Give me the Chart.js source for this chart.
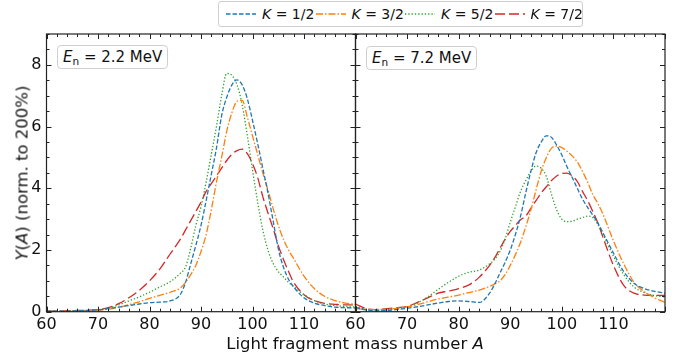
<!DOCTYPE html>
<html>
<head>
<meta charset="utf-8">
<script src="https://cdn.jsdelivr.net/npm/chart.js@4.4.1/dist/chart.umd.min.js"></script>
<style>
  body { margin: 0; background: #fff; }
  #wrap { position: relative; width: 683px; height: 362px; font-family: "DejaVu Sans", sans-serif; color: #111; overflow: hidden; }
  #wrap canvas { position: absolute; left: 0; top: 0; }
  .legend { position: absolute; left: 218px; top: 1px; width: 365px; height: 26px; box-sizing: border-box;
            border: 1px solid #cfcfcf; border-radius: 3px; background: #fff; }
  .legend .item { position: absolute; top: 0; height: 24px; white-space: nowrap; }
  .legend svg { position: absolute; left: 0; top: 0; }
  .legend span { position: absolute; left: 36px; top: 3px; font-size: 14px; line-height: 18px; }
  .tag { position: absolute; height: 24px; box-sizing: border-box; border: 1px solid #cfcfcf; border-radius: 4px;
         background: #fff; font-size: 15px; line-height: 22px; padding: 0 5px; white-space: nowrap; }
  .tag sub { font-size: 70%; vertical-align: -0.25em; line-height: 0; }
  .ytitle { position: absolute; left: 22px; top: 173px; transform: translate(-50%, -50%) rotate(-90deg);
            font-size: 16.5px; white-space: nowrap; }
  .xtitle { position: absolute; left: 355px; top: 343px; transform: translate(-50%, -50%);
            font-size: 16.5px; white-space: nowrap; }
</style>
</head>
<body>
<div id="wrap">
  <canvas id="lowEnergy" width="683" height="362"></canvas>
  <canvas id="highEnergy" width="683" height="362"></canvas>
  <div class="legend" id="legend"></div>
  <div class="tag" style="left:57px; top:45px;"><i>E</i><sub>n</sub> = 2.2 MeV</div>
  <div class="tag" style="left:366px; top:46px;"><i>E</i><sub>n</sub> = 7.2 MeV</div>
  <div class="ytitle"><i>Y</i>(<i>A</i>) (norm. to 200%)</div>
  <div class="xtitle">Light fragment mass number <i>A</i></div>
</div>
<script>
// mass numbers of the light fragment (finer spacing around the peak)
const massNumbers = [60, 62, 64, 66, 68, 70, 72, 74, 76, 78, 80, 82, 84,
  86, 87, 88, 89, 90, 91, 92, 93, 94, 95, 96, 97, 98, 99, 100, 101, 102, 103, 104, 105, 106, 107, 108,
  110, 112, 114, 116, 118, 120];

// En = 2.2 MeV
const yieldK1_low = [0.02, 0.02, 0.02, 0.03, 0.04, 0.06, 0.10, 0.15, 0.20, 0.25, 0.29, 0.31, 0.35,
  0.56, 0.95, 1.55, 2.15, 2.8, 3.6, 4.45, 5.3, 6.35, 6.95, 7.35, 7.51, 7.35, 6.9, 6.2, 5.45, 4.65, 3.85, 2.95, 2.05, 1.45, 1.05, 0.8,
  0.45, 0.28, 0.20, 0.15, 0.13, 0.12];
const yieldK3_low = [0.02, 0.02, 0.02, 0.03, 0.04, 0.05, 0.08, 0.14, 0.23, 0.32, 0.43, 0.53, 0.63,
  0.77, 0.95, 1.2, 1.5, 1.95, 2.5, 3.3, 4.2, 5.0, 5.85, 6.45, 6.82, 6.85, 6.3, 5.7, 5.1, 4.5, 3.95, 3.35, 2.8, 2.35, 2.0, 1.72,
  1.15, 0.75, 0.50, 0.36, 0.28, 0.24];
const yieldK5_low = [0.02, 0.02, 0.02, 0.03, 0.04, 0.06, 0.12, 0.22, 0.35, 0.48, 0.63, 0.80, 0.97,
  1.25, 1.45, 2.05, 2.8, 3.4, 4.2, 5.1, 6.0, 7.0, 7.72, 7.66, 7.35, 6.7, 5.7, 4.6, 3.55, 2.65, 2.0, 1.57, 1.3, 1.13, 0.95, 0.82,
  0.55, 0.36, 0.25, 0.20, 0.17, 0.15];
const yieldK7_low = [0.02, 0.02, 0.03, 0.04, 0.05, 0.07, 0.13, 0.26, 0.45, 0.69, 1.0, 1.38, 1.87,
  2.35, 2.65, 2.95, 3.25, 3.55, 3.9, 4.15, 4.4, 4.65, 4.9, 5.1, 5.22, 5.27, 5.12, 4.8, 4.35, 3.73, 3.2, 2.7, 2.15, 1.7, 1.3, 0.95,
  0.55, 0.36, 0.27, 0.24, 0.22, 0.22];

// En = 7.2 MeV
const yieldK1_high = [0.14, 0.06, 0.03, 0.04, 0.07, 0.11, 0.16, 0.22, 0.28, 0.33, 0.35, 0.33, 0.30,
  0.6, 0.9, 1.25, 1.6, 2.0, 2.5, 3.1, 3.85, 4.55, 5.15, 5.5, 5.7, 5.65, 5.4, 5.08, 4.7, 4.35, 4.0, 3.65, 3.38, 3.13, 2.87, 2.55,
  1.9, 1.3, 0.92, 0.75, 0.66, 0.60];
const yieldK3_high = [0.10, 0.08, 0.07, 0.08, 0.11, 0.16, 0.23, 0.32, 0.41, 0.47, 0.54, 0.62, 0.70,
  0.82, 0.9, 1.0, 1.2, 1.5, 1.85, 2.25, 2.75, 3.3, 3.95, 4.55, 5.0, 5.3, 5.37, 5.32, 5.2, 5.05, 4.85, 4.55, 4.2, 3.8, 3.5, 3.15,
  2.3, 1.55, 0.95, 0.65, 0.45, 0.30];
const yieldK5_high = [0.18, 0.07, 0.05, 0.07, 0.10, 0.15, 0.28, 0.48, 0.72, 0.95, 1.15, 1.28, 1.35,
  1.55, 1.7, 1.95, 2.35, 2.9, 3.4, 3.9, 4.25, 4.55, 4.72, 4.65, 4.38, 3.8, 3.3, 3.0, 2.92, 2.93, 3.0, 3.05, 3.1, 3.05, 2.82, 2.5,
  1.8, 1.2, 0.80, 0.62, 0.52, 0.48];
const yieldK7_high = [0.25, 0.10, 0.07, 0.10, 0.13, 0.17, 0.30, 0.45, 0.60, 0.67, 0.75, 0.87, 1.12,
  1.5, 1.75, 2.05, 2.35, 2.6, 2.8, 2.98, 3.1, 3.35, 3.6, 3.85, 4.05, 4.25, 4.4, 4.48, 4.49, 4.4, 4.22, 3.9, 3.6, 3.25, 2.87, 2.4,
  1.5, 0.85, 0.60, 0.54, 0.53, 0.53];

const kLabels = ["1/2", "3/2", "5/2", "7/2"];
const xTickValues = [60, 70, 80, 90, 100, 110];
const yTickValues = [0, 2, 4, 6, 8];

const lineColors = ["#1f77b4", "#ff7f0e", "#2ca02c", "#d62728"];
const lineDashes = [[4.5, 2], [7, 2, 1.5, 2], [1.3, 2], [10, 4]];
const FONT = '"DejaVu Sans", sans-serif';

function makeDatasets(series) {
  return series.map((values, i) => ({
    label: "K = " + kLabels[i],
    data: massNumbers.map((a, j) => ({ x: a, y: values[j] })),
    borderColor: lineColors[i],
    borderDash: lineDashes[i],
    borderWidth: 1.3,
    pointRadius: 0,
    fill: false,
    cubicInterpolationMode: "monotone",
  }));
}

// frame around the plot area with inward ticks on all four sides
const frameTicks = {
  id: "frameTicks",
  afterDatasetsDraw(chart) {
    const { ctx, chartArea: a, scales: { x, y } } = chart;
    ctx.save();
    ctx.strokeStyle = "#222";
    ctx.lineWidth = 1.2;
    ctx.strokeRect(a.left, a.top, a.right - a.left, a.bottom - a.top);
    ctx.lineWidth = 1;
    ctx.beginPath();
    for (let v = x.min; v <= x.max + 1e-6; v += 2) {
      const px = Math.round(x.getPixelForValue(v)) + 0.5;
      const len = v % 10 === 0 ? 5 : 3;
      ctx.moveTo(px, a.bottom); ctx.lineTo(px, a.bottom - len);
      ctx.moveTo(px, a.top); ctx.lineTo(px, a.top + len);
    }
    for (let v = y.min; v <= y.max + 1e-6; v += 0.5) {
      const py = Math.round(y.getPixelForValue(v)) + 0.5;
      const len = v % 2 === 0 ? 5 : 3;
      ctx.moveTo(a.left, py); ctx.lineTo(a.left + len, py);
      ctx.moveTo(a.right, py); ctx.lineTo(a.right - len, py);
    }
    ctx.stroke();
    ctx.restore();
  },
};

function panelOptions(padLeft, padRight, showYLabels) {
  return {
    responsive: false,
    animation: false,
    layout: { padding: { left: padLeft, right: padRight, top: 34, bottom: 0 } },
    plugins: { legend: { display: false }, tooltip: { enabled: false } },
    scales: {
      x: {
        type: "linear",
        min: 60,
        max: 120,
        afterBuildTicks: (s) => { s.ticks = xTickValues.map((v) => ({ value: v })); },
        afterFit: (s) => { s.height = 50.3; },
        grid: { display: false, drawTicks: false },
        border: { display: false },
        ticks: { color: "#111", font: { family: FONT, size: 16 }, padding: 4, maxRotation: 0, autoSkip: false },
      },
      y: {
        min: 0,
        max: 9,
        afterBuildTicks: (s) => { s.ticks = yTickValues.map((v) => ({ value: v })); },
        afterFit: (s) => { s.width = showYLabels ? 46.5 : 0; },
        grid: { display: false, drawTicks: false },
        border: { display: false },
        ticks: { display: showYLabels, color: "#111", font: { family: FONT, size: 16 }, padding: 5 },
      },
    },
  };
}

new Chart(document.getElementById("lowEnergy"), {
  type: "line",
  data: { datasets: makeDatasets([yieldK1_low, yieldK3_low, yieldK5_low, yieldK7_low]) },
  options: panelOptions(0, 327.5, true),
  plugins: [frameTicks],
});

new Chart(document.getElementById("highEnergy"), {
  type: "line",
  data: { datasets: makeDatasets([yieldK1_high, yieldK3_high, yieldK5_high, yieldK7_high]) },
  options: panelOptions(355.5, 18, false),
  plugins: [frameTicks],
});

// legend with line samples in the same dash styles
const legend = document.getElementById("legend");
kLabels.forEach((k, i) => {
  const item = document.createElement("div");
  item.className = "item";
  item.style.left = (7 + i * 89.5) + "px";
  item.innerHTML =
    '<svg width="30" height="24"><line x1="0" y1="12" x2="30" y2="12" stroke="' + lineColors[i] +
    '" stroke-width="1.3" stroke-dasharray="' + lineDashes[i].join(" ") + '"/></svg>' +
    "<span><i>K</i> = " + k + "</span>";
  legend.appendChild(item);
});
</script>
</body>
</html>
